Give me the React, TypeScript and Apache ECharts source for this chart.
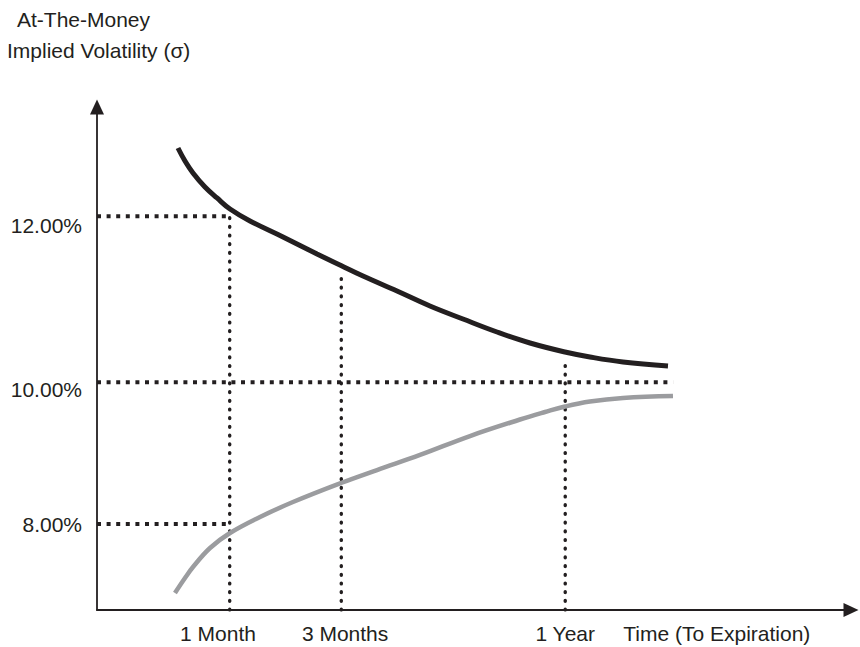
import React, { useEffect, useRef } from "react";
import * as echarts from "echarts";

// Schematic axes: both axes run 0..100 in "chart level" units
const timeTickLabels = ["1 Month", "3 Months", "1 Year", "Time (To Expiration)"];
const timeTickPositions = [16.05, 32.9, 62.1, 82.2];

const volTickLabels = ["8.00%", "10.00%", "12.00%"];
const volTickLevels = [16.9, 43.74, 76.54];

// Declining (black) ATM implied-volatility term structure
const decliningX = [10.74, 11.67, 12.73, 14.32, 15.92, 17.64, 20.29, 24.67, 29.18, 32.36, 35.28, 39.79, 44.16, 48.54, 53.05, 57.43, 62.07, 65.38, 69.76, 75.73];
const decliningY = [91.85, 89.26, 86.88, 84.1, 81.91, 79.72, 77.34, 74.16, 70.78, 68.49, 66.4, 63.42, 60.44, 57.85, 55.27, 53.08, 51.29, 50.3, 49.3, 48.51];

// Rising (grey) ATM implied-volatility term structure
const risingX = [10.34, 11.67, 12.73, 14.99, 17.64, 21.62, 25.99, 32.36, 37.14, 42.84, 49.47, 56.1, 59.42, 62.07, 65.38, 69.76, 76.39];
const risingY = [3.38, 6.36, 8.55, 12.33, 15.31, 18.49, 21.47, 25.25, 27.83, 30.82, 34.59, 37.87, 39.36, 40.46, 41.45, 42.15, 42.54];

// Horizontal guide lines (12%, 10%, 8%): level, end x
const hGuideLevels = [78.3, 45.3, 17.1];
const hGuideEnds = [17.6, 76.4, 17.6];

// Vertical guide lines (1 Month, 3 Months, 1 Year): x, top level
const vGuideX = [17.6, 32.4, 62.1];
const vGuideTops = [78.3, 66.6, 49.9];

const INK = "#231f20";
const FONT = "'Liberation Sans', Arial, Helvetica, sans-serif";

function buildOption() {
  const series: any[] = [];
  hGuideLevels.forEach((lvl, i) => {
    series.push({
      type: "line",
      data: [
        [0, lvl],
        [hGuideEnds[i], lvl],
      ],
      symbol: "none",
      silent: true,
      z: 1,
      lineStyle: { color: INK, width: 4, type: [4, 5.6], cap: "butt" },
    });
  });
  vGuideX.forEach((x, i) => {
    series.push({
      type: "line",
      data: [
        [x, 0],
        [x, vGuideTops[i]],
      ],
      symbol: "none",
      silent: true,
      z: 1,
      lineStyle: { color: INK, width: 3.4, type: [0.8, 7.9], cap: "round" },
    });
  });
  series.push({
    type: "line",
    name: "Rising",
    data: risingX.map((x, i) => [x, risingY[i]]),
    symbol: "none",
    smooth: 0.4,
    z: 3,
    lineStyle: { color: "#9b9c9f", width: 4.5, cap: "butt" },
  });
  series.push({
    type: "line",
    name: "Declining",
    data: decliningX.map((x, i) => [x, decliningY[i]]),
    symbol: "none",
    smooth: 0.4,
    z: 4,
    lineStyle: { color: INK, width: 5, cap: "butt" },
  });

  return {
    animation: false,
    backgroundColor: "#ffffff",
    textStyle: { fontFamily: FONT },
    grid: { left: 97, right: 9, top: 107, bottom: 37, containLabel: false },
    graphic: [
      {
        type: "text",
        left: 17,
        top: 9,
        style: { text: "At-The-Money", font: `21px ${FONT}`, fill: INK },
      },
      {
        type: "text",
        left: 7,
        top: 40,
        style: { text: "Implied Volatility (σ)", font: `21px ${FONT}`, fill: INK },
      },
    ],
    xAxis: {
      type: "value",
      min: 0,
      max: 100,
      splitLine: { show: false },
      axisTick: { show: false },
      axisLine: {
        show: true,
        onZero: false,
        symbol: ["none", "triangle"],
        symbolSize: [14, 15],
        lineStyle: { color: INK, width: 1.8 },
      },
      axisLabel: {
        customValues: timeTickPositions,
        formatter: (v: number) => {
          const i = timeTickPositions.findIndex((p) => Math.abs(p - v) < 1e-6);
          return i >= 0 ? timeTickLabels[i] : "";
        },
        margin: 13,
        color: INK,
        fontSize: 21,
        fontFamily: FONT,
        hideOverlap: false,
        showMinLabel: true,
        showMaxLabel: true,
      },
    },
    yAxis: {
      type: "value",
      min: 0,
      max: 100,
      splitLine: { show: false },
      axisTick: { show: false },
      axisLine: {
        show: true,
        onZero: false,
        symbol: ["none", "triangle"],
        symbolSize: [14, 15],
        lineStyle: { color: INK, width: 1.8 },
      },
      axisLabel: {
        customValues: volTickLevels,
        formatter: (v: number) => {
          const i = volTickLevels.findIndex((p) => Math.abs(p - v) < 1e-6);
          return i >= 0 ? volTickLabels[i] : "";
        },
        margin: 15,
        color: INK,
        fontSize: 21,
        fontFamily: FONT,
        hideOverlap: false,
      },
    },
    series,
  };
}

export default function App() {
  const ref = useRef<HTMLDivElement>(null);
  useEffect(() => {
    if (!ref.current) return;
    const chart = echarts.init(ref.current, null, { renderer: "svg" });
    chart.setOption(buildOption() as any);
    return () => chart.dispose();
  }, []);
  return (
    <div
      ref={ref}
      style={{ position: "fixed", left: 0, top: 0, width: 860, height: 647, background: "#fff" }}
    />
  );
}
